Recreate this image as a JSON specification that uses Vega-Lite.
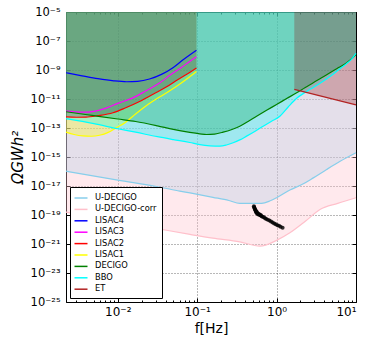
{
  "$schema": "https://vega.github.io/schema/vega-lite/v6.json",
  "width": 290,
  "height": 290,
  "autosize": {"type": "none"},
  "padding": {"left": 66, "top": 12, "right": 17, "bottom": 44},
  "background": "white",
  "config": {
    "view": {"stroke": "black", "strokeWidth": 1},
    "font": "DejaVu Sans",
    "axis": {"domain": false, "labelFont": "DejaVu Sans", "titleFont": "DejaVu Sans", "labelColor": "black", "titleColor": "black", "tickColor": "black", "gridColor": "black", "gridDash": [1, 2], "gridOpacity": 0.7, "gridWidth": 0.8, "zindex": 1, "titleFontWeight": "normal", "labelFontSize": 11},
    "legend": {"orient": "bottom-left", "offset": 4, "strokeColor": "black", "strokeWidth": 1, "fillColor": "white", "padding": 5, "symbolType": "M-1.3,0H1.3", "symbolSize": 100, "symbolStrokeWidth": 1.5, "labelFont": "DejaVu Sans", "labelFontSize": 8.3, "labelColor": "black", "rowPadding": 1.4, "labelOffset": 8, "cornerRadius": 0}
  },
  "data": {"values": [
    {"s": "U-DECIGO-corr", "f": 0.00223, "o": 1.58e-19},
    {"s": "U-DECIGO-corr", "f": 0.01, "o": 3.55e-20},
    {"s": "U-DECIGO-corr", "f": 0.0316, "o": 1.15e-20},
    {"s": "U-DECIGO-corr", "f": 0.0813, "o": 4.57e-21},
    {"s": "U-DECIGO-corr", "f": 0.158, "o": 2.51e-21},
    {"s": "U-DECIGO-corr", "f": 0.344, "o": 1.41e-21},
    {"s": "U-DECIGO-corr", "f": 0.617, "o": 7.08e-22},
    {"s": "U-DECIGO-corr", "f": 1.0, "o": 1.78e-21},
    {"s": "U-DECIGO-corr", "f": 1.47, "o": 5.89e-21},
    {"s": "U-DECIGO-corr", "f": 2.28, "o": 3.55e-20},
    {"s": "U-DECIGO-corr", "f": 3.52, "o": 2.4e-19},
    {"s": "U-DECIGO-corr", "f": 5.89, "o": 6.31e-19},
    {"s": "U-DECIGO-corr", "f": 10, "o": 1.55e-18},
    {"s": "U-DECIGO", "f": 0.00223, "o": 1.05e-16},
    {"s": "U-DECIGO", "f": 0.01, "o": 2.51e-17},
    {"s": "U-DECIGO", "f": 0.0316, "o": 8.91e-18},
    {"s": "U-DECIGO", "f": 0.0603, "o": 4.47e-18},
    {"s": "U-DECIGO", "f": 0.0813, "o": 3.31e-18},
    {"s": "U-DECIGO", "f": 0.158, "o": 1.66e-18},
    {"s": "U-DECIGO", "f": 0.251, "o": 1.0e-18},
    {"s": "U-DECIGO", "f": 0.344, "o": 6.31e-19},
    {"s": "U-DECIGO", "f": 0.646, "o": 6.31e-19},
    {"s": "U-DECIGO", "f": 0.832, "o": 9.55e-19},
    {"s": "U-DECIGO", "f": 1.0, "o": 1.55e-18},
    {"s": "U-DECIGO", "f": 1.47, "o": 5.25e-18},
    {"s": "U-DECIGO", "f": 2.17, "o": 1.41e-17},
    {"s": "U-DECIGO", "f": 2.9, "o": 3.63e-17},
    {"s": "U-DECIGO", "f": 4.27, "o": 1.38e-16},
    {"s": "U-DECIGO", "f": 6.31, "o": 5.01e-16},
    {"s": "U-DECIGO", "f": 10, "o": 1.95e-15},
    {"s": "LISAC4", "f": 0.00223, "o": 6.46e-10},
    {"s": "LISAC4", "f": 0.00355, "o": 3.98e-10},
    {"s": "LISAC4", "f": 0.00562, "o": 2.51e-10},
    {"s": "LISAC4", "f": 0.00891, "o": 1.78e-10},
    {"s": "LISAC4", "f": 0.0129, "o": 1.55e-10},
    {"s": "LISAC4", "f": 0.0178, "o": 1.66e-10},
    {"s": "LISAC4", "f": 0.0251, "o": 2.4e-10},
    {"s": "LISAC4", "f": 0.0355, "o": 5.01e-10},
    {"s": "LISAC4", "f": 0.0501, "o": 1.51e-9},
    {"s": "LISAC4", "f": 0.0646, "o": 4.47e-9},
    {"s": "LISAC4", "f": 0.0813, "o": 1.12e-8},
    {"s": "LISAC4", "f": 0.098, "o": 2.29e-8},
    {"s": "LISAC3", "f": 0.00223, "o": 1.45e-12},
    {"s": "LISAC3", "f": 0.00282, "o": 1.32e-12},
    {"s": "LISAC3", "f": 0.00363, "o": 1.23e-12},
    {"s": "LISAC3", "f": 0.00501, "o": 1.41e-12},
    {"s": "LISAC3", "f": 0.00724, "o": 2.45e-12},
    {"s": "LISAC3", "f": 0.01, "o": 5.01e-12},
    {"s": "LISAC3", "f": 0.0155, "o": 1.2e-11},
    {"s": "LISAC3", "f": 0.0224, "o": 3.55e-11},
    {"s": "LISAC3", "f": 0.0339, "o": 1.32e-10},
    {"s": "LISAC3", "f": 0.0457, "o": 4.47e-10},
    {"s": "LISAC3", "f": 0.0631, "o": 1.51e-9},
    {"s": "LISAC3", "f": 0.0813, "o": 4.07e-9},
    {"s": "LISAC3", "f": 0.098, "o": 8.13e-9},
    {"s": "LISAC2", "f": 0.00223, "o": 5.89e-13},
    {"s": "LISAC2", "f": 0.00302, "o": 5.5e-13},
    {"s": "LISAC2", "f": 0.00398, "o": 5.62e-13},
    {"s": "LISAC2", "f": 0.00562, "o": 7.08e-13},
    {"s": "LISAC2", "f": 0.00871, "o": 1.12e-12},
    {"s": "LISAC2", "f": 0.0126, "o": 2.51e-12},
    {"s": "LISAC2", "f": 0.0191, "o": 7.08e-12},
    {"s": "LISAC2", "f": 0.0282, "o": 2.24e-11},
    {"s": "LISAC2", "f": 0.0407, "o": 6.61e-11},
    {"s": "LISAC2", "f": 0.0575, "o": 2.24e-10},
    {"s": "LISAC2", "f": 0.0813, "o": 7.08e-10},
    {"s": "LISAC2", "f": 0.098, "o": 1.35e-9},
    {"s": "LISAC1", "f": 0.00223, "o": 5.25e-14},
    {"s": "LISAC1", "f": 0.00282, "o": 3.55e-14},
    {"s": "LISAC1", "f": 0.00363, "o": 2.82e-14},
    {"s": "LISAC1", "f": 0.00468, "o": 2.69e-14},
    {"s": "LISAC1", "f": 0.00589, "o": 3.16e-14},
    {"s": "LISAC1", "f": 0.00759, "o": 5.01e-14},
    {"s": "LISAC1", "f": 0.00955, "o": 1.02e-13},
    {"s": "LISAC1", "f": 0.0126, "o": 2.51e-13},
    {"s": "LISAC1", "f": 0.0155, "o": 6.46e-13},
    {"s": "LISAC1", "f": 0.0224, "o": 3.16e-12},
    {"s": "LISAC1", "f": 0.0339, "o": 1.41e-11},
    {"s": "LISAC1", "f": 0.0457, "o": 3.8e-11},
    {"s": "LISAC1", "f": 0.0631, "o": 1.26e-10},
    {"s": "LISAC1", "f": 0.0813, "o": 3.55e-10},
    {"s": "LISAC1", "f": 0.098, "o": 7.94e-10},
    {"s": "DECIGO", "f": 0.00223, "o": 1.32e-12},
    {"s": "DECIGO", "f": 0.00501, "o": 7.08e-13},
    {"s": "DECIGO", "f": 0.01, "o": 4.17e-13},
    {"s": "DECIGO", "f": 0.0168, "o": 2.82e-13},
    {"s": "DECIGO", "f": 0.0316, "o": 1.41e-13},
    {"s": "DECIGO", "f": 0.0501, "o": 7.94e-14},
    {"s": "DECIGO", "f": 0.0807, "o": 5.01e-14},
    {"s": "DECIGO", "f": 0.108, "o": 3.98e-14},
    {"s": "DECIGO", "f": 0.131, "o": 3.55e-14},
    {"s": "DECIGO", "f": 0.166, "o": 3.8e-14},
    {"s": "DECIGO", "f": 0.212, "o": 5.13e-14},
    {"s": "DECIGO", "f": 0.274, "o": 7.94e-14},
    {"s": "DECIGO", "f": 0.344, "o": 1.32e-13},
    {"s": "DECIGO", "f": 0.437, "o": 2.82e-13},
    {"s": "DECIGO", "f": 0.56, "o": 6.46e-13},
    {"s": "DECIGO", "f": 0.748, "o": 1.66e-12},
    {"s": "DECIGO", "f": 1.0, "o": 4.17e-12},
    {"s": "DECIGO", "f": 1.34, "o": 1.07e-11},
    {"s": "DECIGO", "f": 1.79, "o": 2.69e-11},
    {"s": "DECIGO", "f": 2.3, "o": 6.31e-11},
    {"s": "DECIGO", "f": 2.9, "o": 1.32e-10},
    {"s": "DECIGO", "f": 3.69, "o": 2.95e-10},
    {"s": "DECIGO", "f": 4.7, "o": 6.46e-10},
    {"s": "DECIGO", "f": 6.03, "o": 1.48e-9},
    {"s": "DECIGO", "f": 7.64, "o": 3.16e-9},
    {"s": "DECIGO", "f": 8.71, "o": 5.62e-9},
    {"s": "DECIGO", "f": 10, "o": 1.17e-8},
    {"s": "BBO", "f": 0.00223, "o": 4.47e-13},
    {"s": "BBO", "f": 0.00501, "o": 2.0e-13},
    {"s": "BBO", "f": 0.01, "o": 8.91e-14},
    {"s": "BBO", "f": 0.0168, "o": 5.13e-14},
    {"s": "BBO", "f": 0.0316, "o": 2.51e-14},
    {"s": "BBO", "f": 0.0501, "o": 1.58e-14},
    {"s": "BBO", "f": 0.0807, "o": 1.0e-14},
    {"s": "BBO", "f": 0.108, "o": 7.08e-15},
    {"s": "BBO", "f": 0.145, "o": 5.89e-15},
    {"s": "BBO", "f": 0.193, "o": 5.62e-15},
    {"s": "BBO", "f": 0.234, "o": 6.76e-15},
    {"s": "BBO", "f": 0.284, "o": 9.55e-15},
    {"s": "BBO", "f": 0.344, "o": 1.51e-14},
    {"s": "BBO", "f": 0.419, "o": 2.75e-14},
    {"s": "BBO", "f": 0.537, "o": 6.03e-14},
    {"s": "BBO", "f": 0.678, "o": 1.32e-13},
    {"s": "BBO", "f": 0.865, "o": 2.95e-13},
    {"s": "BBO", "f": 1.1, "o": 6.46e-13},
    {"s": "BBO", "f": 1.4, "o": 2.82e-12},
    {"s": "BBO", "f": 1.79, "o": 1.12e-11},
    {"s": "BBO", "f": 2.28, "o": 2.82e-11},
    {"s": "BBO", "f": 2.9, "o": 6.31e-11},
    {"s": "BBO", "f": 3.69, "o": 1.41e-10},
    {"s": "BBO", "f": 4.7, "o": 3.55e-10},
    {"s": "BBO", "f": 6.0, "o": 1.0e-9},
    {"s": "BBO", "f": 7.64, "o": 2.82e-9},
    {"s": "BBO", "f": 8.71, "o": 5.25e-9},
    {"s": "BBO", "f": 10, "o": 1.41e-8},
    {"s": "ET", "f": 1.67, "o": 4.57e-11},
    {"s": "ET", "f": 10, "o": 3.98e-12},
    {"s": "pts", "f": 0.518, "o": 4.07e-19},
    {"s": "pts", "f": 0.521, "o": 3.6e-19},
    {"s": "pts", "f": 0.525, "o": 3.16e-19},
    {"s": "pts", "f": 0.531, "o": 2.75e-19},
    {"s": "pts", "f": 0.537, "o": 2.4e-19},
    {"s": "pts", "f": 0.542, "o": 2.1e-19},
    {"s": "pts", "f": 0.547, "o": 1.91e-19},
    {"s": "pts", "f": 0.552, "o": 1.7e-19},
    {"s": "pts", "f": 0.556, "o": 1.51e-19},
    {"s": "pts", "f": 0.562, "o": 1.66e-19},
    {"s": "pts", "f": 0.569, "o": 1.26e-19},
    {"s": "pts", "f": 0.575, "o": 1.38e-19},
    {"s": "pts", "f": 0.582, "o": 1.12e-19},
    {"s": "pts", "f": 0.595, "o": 1.17e-19},
    {"s": "pts", "f": 0.603, "o": 1.05e-19},
    {"s": "pts", "f": 0.612, "o": 1.1e-19},
    {"s": "pts", "f": 0.624, "o": 9.5e-20},
    {"s": "pts", "f": 0.635, "o": 9.8e-20},
    {"s": "pts", "f": 0.646, "o": 8.3e-20},
    {"s": "pts", "f": 0.668, "o": 7.6e-20},
    {"s": "pts", "f": 0.692, "o": 6.9e-20},
    {"s": "pts", "f": 0.716, "o": 6.0e-20},
    {"s": "pts", "f": 0.741, "o": 5.2e-20},
    {"s": "pts", "f": 0.776, "o": 4.7e-20},
    {"s": "pts", "f": 0.813, "o": 4.2e-20},
    {"s": "pts", "f": 0.851, "o": 3.6e-20},
    {"s": "pts", "f": 0.891, "o": 3.0e-20},
    {"s": "pts", "f": 0.933, "o": 2.6e-20},
    {"s": "pts", "f": 0.977, "o": 2.3e-20},
    {"s": "pts", "f": 1.023, "o": 2.0e-20},
    {"s": "pts", "f": 1.072, "o": 1.78e-20},
    {"s": "pts", "f": 1.122, "o": 1.55e-20},
    {"s": "pts", "f": 1.191, "o": 1.32e-20}
  ]},
  "encoding": {
    "x": {"field": "f", "type": "quantitative", "scale": {"type": "log", "domain": [0.00223, 10], "nice": false}, "axis": null},
    "y": {"field": "o", "type": "quantitative", "scale": {"type": "log", "domain": [1e-25, 1e-5], "nice": false}, "axis": null}
  },
  "layer": [
    {
      "transform": [{"filter": "datum.s == 'U-DECIGO-corr'"}],
      "mark": {"type": "area", "color": "#ffc0cb", "opacity": 0.35, "interpolate": "monotone"},
      "encoding": {
        "x": {"field": "f", "type": "quantitative", "scale": {"type": "log", "domain": [0.00223, 10], "nice": false},
          "axis": {"orient": "bottom", "values": [0.003, 0.004, 0.005, 0.006, 0.007, 0.008, 0.009, 0.02, 0.03, 0.04, 0.05, 0.06, 0.07, 0.08, 0.09, 0.2, 0.3, 0.4, 0.5, 0.6, 0.7, 0.8, 0.9, 2, 3, 4, 5, 6, 7, 8, 9], "labels": false, "grid": false, "tickSize": -2, "title": null}},
        "y2": {"datum": 1e-5}
      }
    },
    {
      "transform": [{"filter": "datum.s == 'U-DECIGO'"}],
      "mark": {"type": "area", "color": "#a5cbe3", "opacity": 0.3, "interpolate": "monotone"},
      "encoding": {
        "x": {"field": "f", "type": "quantitative", "scale": {"type": "log", "domain": [0.00223, 10], "nice": false},
          "axis": {"orient": "top", "values": [0.003, 0.004, 0.005, 0.006, 0.007, 0.008, 0.009, 0.02, 0.03, 0.04, 0.05, 0.06, 0.07, 0.08, 0.09, 0.2, 0.3, 0.4, 0.5, 0.6, 0.7, 0.8, 0.9, 2, 3, 4, 5, 6, 7, 8, 9], "labels": false, "grid": false, "tickSize": -2, "title": null}},
        "y2": {"datum": 1e-5}
      }
    },
    {
      "transform": [{"filter": "datum.s == 'LISAC1'"}],
      "mark": {"type": "area", "color": "#ffff00", "opacity": 0.3, "interpolate": "monotone"},
      "encoding": {"y2": {"datum": 1e-5}}
    },
    {
      "transform": [{"filter": "datum.s == 'BBO'"}],
      "mark": {"type": "area", "color": "#00ffff", "opacity": 0.3, "interpolate": "monotone"},
      "encoding": {"y2": {"datum": 1e-5}}
    },
    {
      "transform": [{"filter": "datum.s == 'DECIGO'"}],
      "mark": {"type": "area", "color": "#00a350", "opacity": 0.3, "interpolate": "monotone"},
      "encoding": {"y2": {"datum": 1e-5}}
    },
    {
      "transform": [{"filter": "datum.s == 'LISAC2'"}],
      "mark": {"type": "area", "color": "#553641", "opacity": 0.3, "interpolate": "monotone"},
      "encoding": {"y2": {"datum": 1e-5}}
    },
    {
      "transform": [{"filter": "datum.s == 'ET'"}],
      "mark": {"type": "area", "color": "#8b0000", "opacity": 0.25},
      "encoding": {"y2": {"datum": 1e-5}}
    },
    {
      "transform": [{"filter": "datum.s != 'pts'"}],
      "mark": {"type": "line", "strokeWidth": 1.2, "interpolate": "monotone"},
      "encoding": {
        "x": {"field": "f", "type": "quantitative", "scale": {"type": "log", "domain": [0.00223, 10], "nice": false},
          "axis": {"orient": "bottom", "values": [0.01, 0.1, 1, 10], "tickSize": -4, "labelPadding": 8, "labelFontSize": 12, "labelExpr": "'10' + (datum.value < 0.999 ? '⁻' : '') + substring('⁰¹²³⁴⁵⁶⁷⁸⁹', abs(round(log(datum.value)/LN10)), abs(round(log(datum.value)/LN10)) + 1)", "title": "f[Hz]", "titleFontSize": 14, "titlePadding": 4, "grid": true}},
        "y": {"field": "o", "type": "quantitative", "scale": {"type": "log", "domain": [1e-25, 1e-5], "nice": false},
          "axis": {"orient": "left", "values": [1e-25, 1e-23, 1e-21, 1e-19, 1e-17, 1e-15, 1e-13, 1e-11, 1e-9, 1e-7, 1e-5], "tickSize": -4, "labelPadding": 10, "labelFontSize": 11.5, "labelExpr": "'10⁻' + (abs(round(log(datum.value)/LN10)) >= 10 ? substring('⁰¹²³⁴⁵⁶⁷⁸⁹', floor(abs(round(log(datum.value)/LN10))/10), floor(abs(round(log(datum.value)/LN10))/10) + 1) : '') + substring('⁰¹²³⁴⁵⁶⁷⁸⁹', abs(round(log(datum.value)/LN10)) % 10, abs(round(log(datum.value)/LN10)) % 10 + 1)", "title": "ΩGWh²", "titleFontSize": 15, "titleFontStyle": "italic", "titlePadding": 5, "grid": true}},
        "color": {"field": "s", "type": "nominal",
          "scale": {"domain": ["U-DECIGO", "U-DECIGO-corr", "LISAC4", "LISAC3", "LISAC2", "LISAC1", "DECIGO", "BBO", "ET"],
                    "range": ["#87ceeb", "#ffc0cb", "#0000ff", "#ff00ff", "#ff0000", "#ffff00", "#008000", "#00ffff", "#b22222"]},
          "legend": {"title": null}}
      }
    },
    {
      "transform": [{"filter": "datum.s == 'pts'"}],
      "mark": {"type": "circle", "color": "black", "size": 16, "opacity": 0.8},
      "encoding": {
        "x": {"field": "f", "type": "quantitative", "scale": {"type": "log", "domain": [0.00223, 10], "nice": false},
          "axis": {"orient": "top", "values": [0.01, 0.1, 1, 10], "labels": false, "grid": false, "tickSize": -4, "title": null}},
        "y": {"field": "o", "type": "quantitative", "scale": {"type": "log", "domain": [1e-25, 1e-5], "nice": false},
          "axis": {"orient": "right", "values": [1e-25, 1e-23, 1e-21, 1e-19, 1e-17, 1e-15, 1e-13, 1e-11, 1e-9, 1e-7, 1e-5], "labels": false, "grid": false, "tickSize": -4, "title": null}}
      }
    }
  ],
  "resolve": {"axis": {"x": "independent", "y": "independent"}}
}
